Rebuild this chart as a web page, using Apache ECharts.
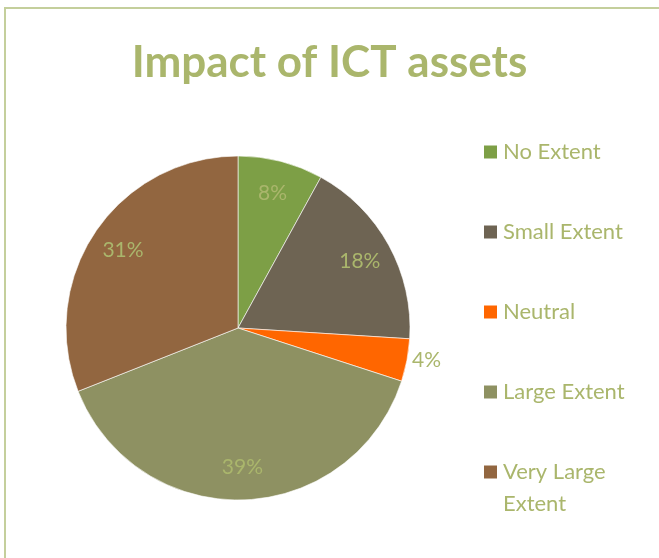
<!DOCTYPE html>
<html>
<head>
<meta charset="utf-8">
<script src="https://cdn.jsdelivr.net/npm/echarts@6/dist/echarts.min.js"></script>
<style>
  html, body { margin: 0; padding: 0; background: #fff; }
  #main { width: 659px; height: 558px; }
</style>
</head>
<body>
<div id="main"></div>
<script>
// 数据
var categories = ['No Extent', 'Small Extent', 'Neutral', 'Large Extent', 'Very Large Extent'];
var values = [8, 18, 4, 39, 31];
var colors = ['#7d9f46', '#6e6453', '#ff6600', '#8e9162', '#926640'];

var textColor = '#aab66c';
var fontFam = 'Lato, "Open Sans", sans-serif';

var pieData = categories.map(function (name, i) {
    return { name: name, value: values[i] };
});

// 标签用的透明环，4% 那块放外面
var labelData = categories.map(function (name, i) {
    var item = { name: name, value: values[i] };
    if (name === 'Neutral') {
        item.label = { position: 'outside', distance: 8 };
        item.labelLine = { show: false, length: 0, length2: 0 };
    }
    return item;
});

var legendText = {
    color: textColor,
    fontSize: 22,
    lineHeight: 32,
    fontFamily: fontFam
};

var myChart = echarts.init(document.getElementById('main'));
var option = {
    color: colors,
    title: {
        text: 'Impact of ICT assets',
        left: 'center',
        top: 36,
        textStyle: {
            color: textColor,
            fontSize: 44,
            fontWeight: 'bold',
            fontFamily: fontFam
        }
    },
    legend: [
        {   // 前四项
            orient: 'vertical',
            left: 482,
            top: 136,
            height: 400,
            padding: 0,
            itemWidth: 15,
            itemHeight: 15,
            itemGap: 48,
            icon: 'rect',
            textStyle: legendText,
            data: categories.slice(0, 4)
        },
        {   // 最后一项两行，图标对齐第一行（前面空一行让文字下移）
            orient: 'vertical',
            left: 482,
            top: 424,
            padding: 0,
            itemWidth: 15,
            itemHeight: 15,
            icon: 'rect',
            formatter: function (name) {
                return '\n' + name.replace('Very Large ', 'Very Large\n');
            },
            textStyle: legendText,
            data: categories.slice(4)
        }
    ],
    graphic: [{
        type: 'rect',
        shape: { x: 5, y: 8, width: 800, height: 700 },
        style: { fill: 'none', stroke: '#c4cf9c', lineWidth: 2 },
        silent: true
    }],
    series: [
        {
            name: 'Impact',
            type: 'pie',
            center: [238, 328],
            radius: [0, 172],
            startAngle: 90,
            clockwise: true,
            label: { show: false },
            labelLine: { show: false },
            itemStyle: { borderColor: '#ffffff', borderWidth: 0.6 },
            emphasis: { disabled: true },
            data: pieData
        },
        {
            name: 'labels',
            type: 'pie',
            center: [238, 328],
            radius: [100, 172],
            startAngle: 90,
            clockwise: true,
            silent: true,
            legendHoverLink: false,
            itemStyle: { color: 'rgba(0,0,0,0)' },
            label: {
                show: true,
                position: 'inside',
                formatter: '{c}%',
                color: textColor,
                fontSize: 21,
                fontFamily: fontFam
            },
            labelLine: { show: false },
            emphasis: { disabled: true },
            data: labelData
        }
    ]
};
myChart.setOption(option);
</script>
</body>
</html>
